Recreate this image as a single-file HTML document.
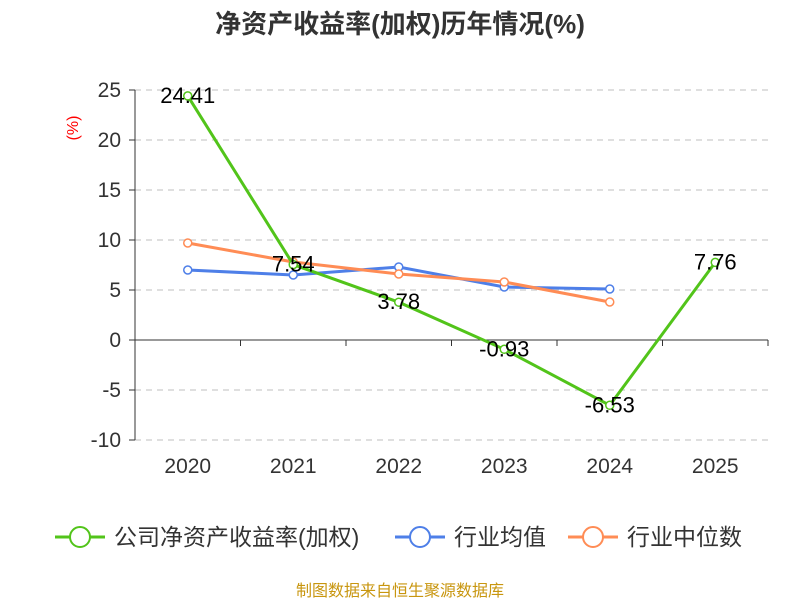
<!DOCTYPE html>
<html><head><meta charset="utf-8"><style>
body{margin:0;background:#fff;width:800px;height:600px;overflow:hidden}
svg{font-family:"Liberation Sans","Noto Sans CJK SC",sans-serif}
</style></head><body>
<svg id="c" width="800" height="600">
<text x="400" y="33" text-anchor="middle" font-size="26" font-weight="bold" fill="#333">净资产收益率(加权)历年情况(%)</text>
<text x="78" y="128" text-anchor="middle" font-size="16" fill="red" transform="rotate(-90 78 128)">(%)</text>
<g id="grid"></g><g id="axes"></g><g id="series"></g><g id="labels"></g>
<g>
<g><line x1="55" y1="537" x2="105" y2="537" stroke="#52c41a" stroke-width="3"/><circle cx="80" cy="537" r="10" fill="#fff" stroke="#52c41a" stroke-width="2"/><text x="114" y="545" font-size="23" fill="#333">公司净资产收益率(加权)</text></g>
<g><line x1="395" y1="537" x2="445" y2="537" stroke="#4e7fe8" stroke-width="3"/><circle cx="420" cy="537" r="10" fill="#fff" stroke="#4e7fe8" stroke-width="2"/><text x="454" y="545" font-size="23" fill="#333">行业均值</text></g>
<g><line x1="568" y1="537" x2="618" y2="537" stroke="#ff8c55" stroke-width="3"/><circle cx="593" cy="537" r="10" fill="#fff" stroke="#ff8c55" stroke-width="2"/><text x="627" y="545" font-size="23" fill="#333">行业中位数</text></g>
</g>
<text x="400" y="596" text-anchor="middle" font-size="16" fill="#c8960f">制图数据来自恒生聚源数据库</text>
</svg>
<script>
const categories=["2020","2021","2022","2023","2024","2025"];
const company=[24.41,7.54,3.78,-0.93,-6.53,7.76];
const industryAvg=[7.0,6.5,7.3,5.3,5.1,null];
const industryMedian=[9.7,7.8,6.6,5.8,3.8,null];
const yTicks=[25,20,15,10,5,0,-5,-10];
const ns="http://www.w3.org/2000/svg";
const X0=135,X1=768,bw=(X1-X0)/categories.length;
const x=i=>X0+bw*(i+0.5);
const y=v=>340-v*10;
function el(t,a,p){const e=document.createElementNS(ns,t);for(const k in a)e.setAttribute(k,a[k]);document.getElementById(p).appendChild(e);return e;}
yTicks.forEach(t=>{
 if(t!==0){const g=el('line',{x1:X0,x2:X1,y1:y(t),y2:y(t),stroke:'#ccc','stroke-dasharray':'6,5','stroke-width':1.3},'grid');
 
 }
 const tk=el('line',{x1:X0-6,x2:X0,y1:y(t),y2:y(t),stroke:'#333'},'axes');
 
 
 const tx=el('text',{x:X0-14,y:y(t)+7,'text-anchor':'end','font-size':21,fill:'#333'},'axes');
 tx.textContent=t;
 
 
});
const ya=el('line',{x1:X0,x2:X0,y1:y(25),y2:y(-10),stroke:'#333'},'axes');


const xa=el('line',{x1:X0,x2:X1,y1:y(0),y2:y(0),stroke:'#333'},'axes');


for(let i=0;i<=categories.length;i++){const t=el('line',{x1:X0+bw*i,x2:X0+bw*i,y1:y(0),y2:y(0)+6,stroke:'#333'},'axes');
 
 }
categories.forEach((c,i)=>{const t=el('text',{x:x(i),y:473,'text-anchor':'middle','font-size':21,fill:'#333'},'axes');t.textContent=c;
 
 });
function series(d,col,name){
 const pts=d.map((v,i)=>v==null?null:[x(i),y(v)]).filter(p=>p);
 const p=el('polyline',{points:pts.map(p=>p.join(',')).join(' '),fill:'none',stroke:col,'stroke-width':3},'series');
 
 
 pts.forEach(q=>{const c=el('circle',{cx:q[0],cy:q[1],r:4,fill:'#fff',stroke:col,'stroke-width':1.5},'series');
 
 });
}
series(industryAvg,'#4e7fe8','industry-avg');
series(industryMedian,'#ff8c55','industry-median');
series(company,'#52c41a','company');
company.forEach((v,i)=>{const t=el('text',{x:x(i),y:y(v)+7,'text-anchor':'middle','font-size':22,fill:'#000'},'labels');t.textContent=v.toFixed(2);
 
 });
</script>
</body></html>
